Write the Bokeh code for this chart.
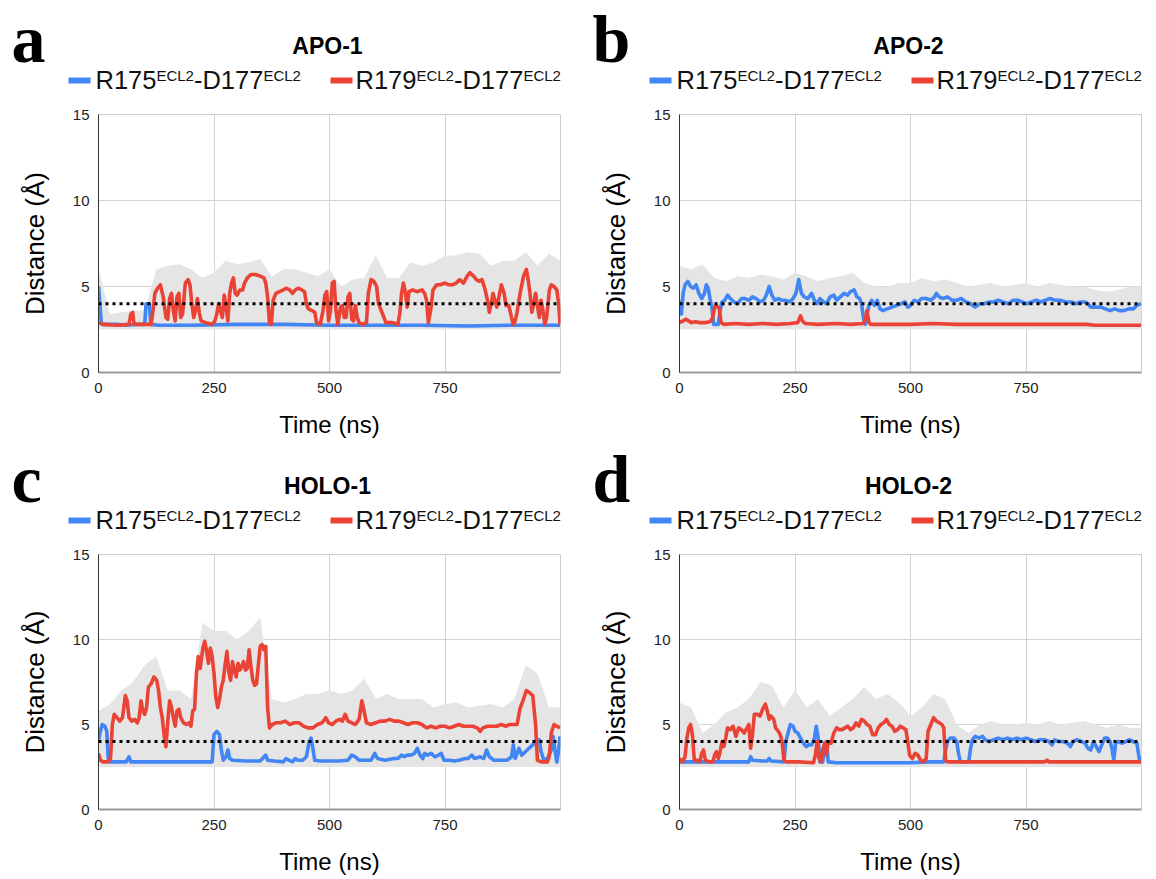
from bokeh.plotting import figure
from bokeh.models import Range1d, FixedTicker, Span
from bokeh.layouts import column, row
from bokeh.embed import file_html
from bokeh.resources import INLINE
from bokeh.core.properties import value

FONT = "Liberation Sans"
SERIF = "Liberation Serif"
BLUE = "#4285f4"
RED = "#ea4335"
GREY = "#e5e5e5"

threshold = 4.0
x_ticks = [0, 250, 500, 750]
y_ticks = [0, 5, 10, 15]
panel_letters = ["a", "b", "c", "d"]
panel_titles = ["APO-1", "APO-2", "HOLO-1", "HOLO-2"]
series_names = [("R175", "ECL2", "-D177", "ECL2"), ("R179", "ECL2", "-D177", "ECL2")]

# raw-trace spread (grey), sampled every 25 ns
grey_t = [i * 25 for i in range(41)]
apo1_grey_lo = [2.5, 2.5, 2.5, 2.5, 2.5, 2.5, 2.5, 2.5, 2.5, 2.5, 2.5, 2.5, 2.5, 2.5, 2.5, 2.5, 2.5, 2.5, 2.5, 2.5, 2.5,
                2.5, 2.5, 2.5, 2.5, 2.5, 2.5, 2.5, 2.5, 2.5, 2.5, 2.5, 2.5, 2.5, 2.5, 2.5, 2.5, 2.5, 2.5, 2.5, 2.5]
apo1_grey_hi = [6.0, 3.4, 3.5, 3.6, 3.6, 6.0, 6.2, 6.3, 6.0, 5.5, 5.8, 6.5, 6.3, 6.4, 6.6, 5.6, 6.0, 6.0, 5.8, 5.6, 6.0,
                5.0, 5.4, 5.5, 6.8, 5.5, 5.5, 6.4, 6.2, 6.4, 6.8, 6.8, 7.0, 6.9, 6.2, 6.5, 6.5, 7.0, 6.2, 6.9, 6.5]
apo2_grey_lo = [2.5, 2.5, 2.5, 2.5, 2.5, 2.5, 2.5, 2.5, 2.5, 2.5, 2.5, 2.5, 2.5, 2.5, 2.5, 2.5, 2.5, 2.5, 2.5, 2.5, 2.5,
                2.5, 2.5, 2.5, 2.5, 2.5, 2.5, 2.5, 2.5, 2.5, 2.5, 2.5, 2.5, 2.5, 2.5, 2.5, 2.5, 2.5, 2.5, 2.5, 2.5]
apo2_grey_hi = [6.2, 6.0, 6.3, 5.5, 5.3, 5.6, 5.5, 5.7, 5.6, 5.4, 5.8, 5.6, 5.3, 5.5, 5.6, 5.8, 5.2, 5.0, 5.0, 5.2, 5.2,
                5.5, 5.3, 5.4, 5.2, 5.0, 5.1, 5.2, 5.0, 5.1, 5.2, 5.0, 5.2, 5.1, 5.0, 5.0, 4.8, 4.7, 4.8, 5.0, 5.0]
holo1_grey_lo = [2.5, 2.5, 2.5, 2.5, 2.5, 2.5, 2.5, 2.5, 2.5, 2.5, 2.5, 2.5, 2.5, 2.5, 2.5, 2.5, 2.5, 2.5, 2.5, 2.5, 2.5,
                 2.5, 2.5, 2.5, 2.5, 2.5, 2.5, 2.5, 2.5, 2.5, 2.5, 2.5, 2.5, 2.5, 2.5, 2.5, 2.5, 2.5, 2.5, 2.5, 2.5]
holo1_grey_hi = [5.8, 6.2, 7.0, 7.5, 8.5, 9.0, 7.0, 7.0, 6.5, 11.0, 10.5, 10.5, 10.0, 10.5, 11.3, 6.5, 6.3, 6.5, 6.8, 6.8, 7.0,
                 6.8, 7.0, 7.7, 6.5, 6.8, 6.5, 6.5, 6.5, 6.0, 6.2, 6.3, 6.0, 6.1, 6.2, 6.0, 6.5, 8.5, 8.0, 6.0, 6.0]
holo2_grey_lo = [2.5, 2.5, 2.5, 2.5, 2.5, 2.5, 2.5, 2.5, 2.5, 2.5, 2.5, 2.5, 2.5, 2.5, 2.5, 2.5, 2.5, 2.5, 2.5, 2.5, 2.5,
                 2.5, 2.5, 2.5, 2.5, 2.5, 2.5, 2.5, 2.5, 2.5, 2.5, 2.5, 2.5, 2.5, 2.5, 2.5, 2.5, 2.5, 2.5, 2.5, 2.5]
holo2_grey_hi = [6.3, 6.0, 4.5, 5.0, 5.7, 6.0, 6.5, 7.5, 7.3, 6.0, 7.0, 6.0, 6.5, 5.5, 6.0, 6.5, 7.2, 6.5, 6.8, 6.3, 5.5,
                 6.0, 6.8, 6.5, 5.0, 4.5, 5.0, 5.2, 5.0, 5.0, 5.1, 5.0, 5.2, 5.0, 5.1, 5.2, 5.0, 4.8, 5.0, 4.8, 4.8]

# smoothed distances (time ns, distance Å)
apo1_r175 = [(0, 5.0), (6, 2.9), (8, 2.8), (40, 2.8), (60, 2.75), (80, 2.8), (100, 2.8), (103, 4.0), (110, 4.0),
             (113, 2.8), (130, 2.75), (200, 2.75), (300, 2.8), (400, 2.8), (500, 2.75), (600, 2.75), (700, 2.75),
             (800, 2.7), (900, 2.75), (999, 2.75)]
apo1_r179 = [(0, 2.9), (10, 2.8), (40, 2.75), (66, 2.8), (70, 3.4), (74, 3.5), (77, 2.8), (100, 2.8), (114, 2.8),
             (118, 3.6), (122, 4.6), (128, 4.9), (134, 5.1), (140, 4.4), (146, 3.2), (150, 3.1), (154, 4.3), (158, 4.6),
             (162, 3.6), (166, 3.0), (170, 4.4), (174, 4.6), (178, 3.2), (182, 3.4), (188, 5.2), (194, 5.4), (198, 5.1),
             (202, 4.0), (206, 3.2), (210, 3.6), (214, 4.3), (218, 3.5), (222, 3.0), (232, 2.9), (246, 2.8), (252, 3.0),
             (256, 3.4), (260, 4.0), (264, 3.6), (268, 3.2), (272, 4.5), (276, 3.8), (280, 3.0), (284, 4.6), (288, 5.2),
             (292, 5.5), (296, 4.6), (300, 4.5), (306, 4.8), (312, 4.8), (316, 5.2), (322, 5.5), (330, 5.7), (340, 5.7),
             (350, 5.6), (358, 5.5), (362, 5.2), (366, 4.4), (370, 2.9), (374, 2.8), (378, 4.2), (384, 4.6), (392, 4.7),
             (400, 4.8), (406, 4.9), (414, 4.8), (420, 4.6), (426, 4.8), (432, 4.9), (440, 4.8), (446, 4.7), (450, 4.0),
             (454, 3.7), (462, 3.6), (468, 3.5), (472, 2.9), (480, 2.8), (486, 3.6), (490, 4.5), (494, 4.7), (498, 3.0),
             (502, 3.6), (506, 5.2), (510, 5.3), (514, 3.6), (518, 2.8), (524, 3.8), (528, 3.9), (532, 3.2), (536, 3.2),
             (540, 4.4), (544, 4.6), (548, 3.1), (552, 3.0), (556, 3.9), (560, 3.2), (564, 2.9), (572, 2.8), (580, 2.9),
             (584, 4.6), (590, 5.4), (596, 5.3), (602, 5.0), (606, 4.0), (612, 3.6), (618, 3.2), (622, 2.9), (636, 2.9),
             (648, 2.8), (652, 3.4), (656, 4.6), (660, 5.2), (664, 4.7), (668, 3.8), (672, 4.7), (680, 4.8), (690, 4.7),
             (700, 4.8), (706, 4.6), (710, 4.2), (714, 2.9), (720, 3.8), (724, 4.8), (732, 5.1), (740, 5.1), (750, 5.2),
             (758, 5.1), (766, 5.1), (774, 5.2), (782, 5.4), (790, 5.2), (798, 5.6), (804, 5.8), (812, 5.6), (818, 5.4),
             (824, 5.3), (830, 5.4), (836, 4.9), (842, 4.2), (846, 3.5), (850, 4.0), (854, 4.6), (858, 4.2), (862, 3.8),
             (866, 4.3), (872, 5.1), (878, 4.6), (882, 3.9), (888, 3.9), (894, 3.2), (898, 2.8), (902, 3.0), (906, 3.5),
             (910, 4.2), (914, 4.8), (920, 5.6), (926, 6.0), (930, 5.4), (934, 4.6), (938, 3.5), (942, 4.0), (946, 4.6),
             (950, 3.9), (954, 3.2), (958, 4.2), (962, 3.6), (966, 2.8), (970, 3.2), (976, 4.8), (980, 5.1), (986, 5.0),
             (992, 4.8), (996, 4.0), (999, 2.8)]

apo2_r175 = [(0, 4.2), (4, 3.4), (8, 4.6), (12, 5.1), (18, 5.3), (24, 5.0), (30, 4.9), (36, 5.1), (42, 4.6), (48, 4.3),
             (54, 4.6), (58, 5.1), (62, 4.9), (66, 4.3), (70, 3.8), (74, 2.8), (84, 2.8), (88, 3.6), (92, 4.1), (98, 4.2),
             (104, 4.5), (110, 4.3), (118, 4.1), (126, 4.0), (134, 4.3), (142, 4.3), (150, 4.2), (158, 4.4), (166, 4.3),
             (174, 4.1), (182, 4.2), (188, 4.5), (194, 5.0), (200, 4.5), (206, 4.2), (214, 4.3), (222, 4.2), (230, 4.2),
             (238, 4.1), (246, 4.3), (252, 4.6), (258, 5.4), (264, 4.6), (270, 4.4), (278, 4.3), (286, 4.6), (292, 4.2),
             (298, 4.0), (304, 4.3), (312, 4.1), (318, 4.0), (326, 4.4), (334, 4.5), (340, 4.2), (348, 4.4), (356, 4.6),
             (364, 4.5), (370, 4.7), (378, 4.8), (384, 4.4), (390, 4.3), (394, 4.0), (398, 3.2), (402, 2.8), (406, 3.4),
             (410, 3.9), (416, 4.2), (422, 3.9), (428, 4.2), (434, 3.7), (440, 3.6), (450, 3.7), (460, 3.8), (470, 3.9),
             (480, 4.0), (488, 4.1), (494, 3.8), (500, 3.9), (508, 4.2), (516, 4.1), (524, 4.3), (534, 4.3), (544, 4.2),
             (552, 4.4), (556, 4.6), (562, 4.4), (570, 4.3), (580, 4.4), (590, 4.2), (600, 4.2), (610, 4.3), (620, 4.1),
             (630, 4.0), (640, 3.8), (650, 4.0), (660, 4.0), (670, 4.1), (680, 4.1), (690, 4.2), (700, 4.1), (712, 4.0),
             (722, 4.2), (732, 4.2), (742, 4.1), (752, 4.0), (762, 4.1), (772, 4.2), (782, 4.1), (792, 4.2), (802, 4.3),
             (812, 4.2), (824, 4.2), (836, 4.1), (848, 4.1), (858, 4.0), (868, 4.1), (878, 4.1), (884, 4.0), (890, 3.8),
             (900, 3.8), (912, 3.8), (922, 3.7), (932, 3.6), (942, 3.7), (952, 3.6), (962, 3.6), (972, 3.7), (982, 3.7),
             (990, 3.9), (999, 4.0)]
apo2_r179 = [(0, 2.9), (8, 3.0), (14, 3.1), (20, 3.0), (26, 2.9), (34, 2.95), (44, 2.9), (56, 2.9), (66, 2.95),
             (72, 3.2), (76, 3.8), (80, 3.9), (86, 3.7), (90, 2.9), (96, 2.8), (120, 2.85), (150, 2.8), (180, 2.85),
             (210, 2.8), (240, 2.85), (256, 2.9), (262, 3.3), (266, 3.0), (272, 2.85), (300, 2.8), (340, 2.85),
             (370, 2.8), (398, 2.85), (402, 3.1), (406, 3.6), (410, 2.9), (414, 2.8), (450, 2.8), (500, 2.8),
             (550, 2.85), (600, 2.8), (650, 2.8), (700, 2.8), (750, 2.8), (800, 2.8), (850, 2.8), (880, 2.8),
             (900, 2.75), (950, 2.75), (999, 2.75)]

holo1_r175 = [(0, 4.0), (4, 4.6), (8, 5.0), (14, 4.9), (18, 4.6), (21, 3.0), (24, 2.8), (40, 2.8), (60, 2.8), (66, 3.1),
              (70, 2.8), (100, 2.8), (140, 2.8), (180, 2.8), (220, 2.8), (246, 2.8), (250, 4.4), (256, 4.6), (262, 4.4),
              (266, 3.5), (270, 2.9), (276, 3.1), (280, 3.5), (284, 3.0), (290, 2.9), (320, 2.85), (350, 2.85),
              (362, 3.2), (366, 2.9), (380, 2.85), (400, 2.8), (406, 3.0), (412, 2.9), (420, 2.8), (426, 3.0),
              (432, 2.9), (442, 2.9), (450, 3.1), (456, 4.0), (460, 4.2), (464, 3.6), (468, 2.9), (480, 2.85),
              (500, 2.85), (520, 2.85), (540, 2.9), (548, 3.2), (556, 3.1), (564, 2.9), (590, 2.9), (598, 3.3),
              (604, 3.0), (620, 2.9), (640, 3.0), (648, 3.0), (656, 3.2), (662, 3.1), (668, 3.2), (676, 3.2),
              (684, 3.3), (690, 3.6), (696, 3.2), (702, 3.0), (706, 3.3), (712, 3.2), (720, 3.3), (728, 3.1),
              (736, 3.2), (742, 3.3), (748, 2.9), (760, 2.9), (770, 2.85), (780, 2.9), (794, 3.0), (800, 3.0),
              (808, 3.2), (814, 3.0), (826, 3.1), (834, 3.0), (840, 3.5), (846, 3.1), (856, 2.9), (870, 2.9),
              (884, 2.9), (894, 3.1), (898, 3.8), (902, 3.0), (910, 3.6), (916, 3.2), (924, 3.4), (932, 3.6),
              (940, 3.8), (948, 4.1), (954, 4.1), (958, 3.4), (964, 2.9), (972, 3.0), (980, 3.5), (984, 4.3),
              (988, 3.5), (992, 2.8), (996, 3.5), (999, 4.3)]
holo1_r179 = [(0, 3.3), (4, 2.9), (10, 2.8), (20, 2.8), (26, 3.0), (30, 5.0), (34, 5.6), (40, 5.4), (46, 5.2),
              (52, 5.4), (58, 6.7), (62, 6.4), (66, 5.4), (72, 5.2), (78, 5.3), (84, 5.1), (88, 5.4), (92, 6.4),
              (96, 5.8), (100, 5.6), (104, 6.0), (108, 7.2), (114, 7.4), (120, 7.8), (126, 7.6), (130, 7.0), (134, 6.0),
              (138, 5.4), (142, 4.4), (146, 3.7), (150, 5.2), (154, 6.4), (158, 6.0), (162, 5.4), (166, 4.9), (170, 5.8),
              (174, 5.9), (178, 5.4), (184, 5.1), (190, 5.0), (196, 5.1), (200, 4.9), (204, 5.8), (208, 5.9), (212, 8.0),
              (216, 9.0), (220, 8.3), (226, 9.5), (230, 9.9), (234, 9.3), (238, 8.6), (242, 9.5), (246, 9.0), (250, 8.0),
              (254, 6.6), (258, 6.0), (262, 6.5), (266, 7.2), (270, 7.6), (274, 8.5), (278, 9.3), (282, 8.1), (286, 7.6),
              (290, 8.7), (294, 8.2), (298, 7.8), (302, 8.6), (306, 8.2), (310, 8.4), (314, 8.7), (318, 8.2), (322, 8.3),
              (326, 9.4), (330, 8.4), (334, 7.6), (338, 7.3), (342, 7.4), (346, 8.5), (350, 9.6), (354, 9.7), (358, 9.4),
              (362, 9.6), (366, 6.0), (370, 4.8), (376, 5.0), (384, 5.1), (394, 5.1), (404, 5.2), (414, 5.0), (424, 5.1),
              (434, 5.1), (444, 4.9), (454, 4.8), (464, 4.8), (474, 5.0), (484, 5.1), (492, 5.4), (498, 5.1), (506, 5.0),
              (514, 5.2), (522, 5.3), (528, 5.2), (534, 5.6), (540, 5.2), (548, 5.1), (556, 5.0), (564, 5.3), (570, 6.4),
              (574, 5.9), (580, 5.1), (590, 5.0), (600, 5.1), (610, 5.2), (620, 5.2), (630, 5.3), (640, 5.2), (650, 5.2),
              (660, 5.1), (670, 5.0), (680, 5.1), (690, 5.1), (700, 5.0), (710, 4.8), (720, 4.9), (730, 4.8), (740, 4.9),
              (750, 4.9), (760, 4.8), (770, 4.9), (780, 5.0), (790, 4.9), (800, 4.9), (810, 4.9), (820, 4.8), (826, 4.6),
              (832, 4.8), (842, 4.9), (852, 4.9), (862, 4.9), (872, 5.0), (882, 4.9), (890, 5.0), (900, 5.0), (906, 5.0),
              (912, 5.9), (920, 6.5), (926, 7.0), (932, 6.9), (940, 6.7), (946, 5.0), (950, 2.9), (958, 2.8), (972, 2.8),
              (976, 3.2), (980, 4.5), (986, 5.0), (992, 4.9), (999, 4.8)]

holo2_r175 = [(0, 2.8), (40, 2.8), (80, 2.8), (120, 2.8), (150, 2.8), (154, 3.1), (158, 2.9), (180, 2.85), (190, 2.85),
              (194, 3.0), (198, 2.85), (226, 2.8), (230, 4.0), (236, 4.6), (240, 5.0), (246, 4.9), (250, 4.6),
              (256, 4.5), (262, 4.2), (268, 3.9), (274, 3.7), (280, 3.8), (286, 3.8), (292, 4.2), (296, 4.9),
              (300, 4.2), (304, 2.8), (310, 2.8), (314, 3.6), (318, 4.0), (322, 2.8), (340, 2.75), (380, 2.75),
              (420, 2.75), (460, 2.75), (500, 2.75), (540, 2.8), (572, 2.8), (576, 3.5), (580, 4.0), (586, 4.2),
              (594, 4.2), (600, 4.0), (604, 3.3), (608, 2.8), (626, 2.8), (630, 3.6), (634, 4.1), (640, 4.3),
              (648, 4.2), (656, 4.3), (662, 4.1), (670, 4.0), (680, 4.1), (690, 4.2), (700, 4.1), (710, 4.2),
              (720, 4.1), (730, 4.2), (740, 4.1), (750, 4.2), (760, 4.1), (770, 4.0), (780, 4.1), (790, 4.1),
              (800, 4.0), (806, 3.8), (812, 4.1), (820, 4.0), (830, 4.0), (840, 3.9), (846, 3.7), (852, 4.0),
              (860, 4.1), (870, 4.0), (878, 3.9), (884, 3.6), (890, 3.5), (896, 4.0), (902, 3.7), (908, 3.4),
              (914, 3.8), (920, 4.2), (926, 4.2), (932, 4.0), (936, 3.6), (940, 2.9), (944, 3.9), (950, 4.0),
              (958, 3.9), (966, 4.0), (974, 4.1), (982, 4.0), (990, 3.9), (995, 3.0), (999, 3.0)]
holo2_r179 = [(0, 3.0), (6, 2.8), (12, 3.1), (16, 4.2), (20, 4.8), (24, 5.0), (28, 4.4), (32, 2.9), (38, 2.9), (44, 2.8),
              (48, 3.3), (52, 3.5), (56, 2.9), (64, 2.8), (72, 2.8), (76, 3.2), (80, 3.4), (84, 3.0), (88, 3.4),
              (92, 4.0), (96, 3.7), (100, 4.2), (104, 4.8), (110, 4.7), (116, 4.9), (122, 4.3), (128, 4.8), (134, 4.7),
              (140, 4.5), (146, 4.8), (150, 5.0), (154, 3.6), (158, 4.4), (162, 5.6), (168, 5.6), (174, 5.5),
              (180, 5.9), (186, 6.2), (190, 5.8), (194, 5.3), (198, 5.5), (204, 5.3), (208, 4.8), (214, 4.6),
              (218, 4.4), (222, 4.0), (226, 2.9), (232, 2.8), (260, 2.8), (290, 2.75), (294, 3.2), (298, 4.0),
              (302, 3.0), (306, 2.8), (310, 3.5), (314, 3.9), (318, 3.2), (322, 4.0), (328, 3.9), (334, 4.5),
              (340, 4.8), (346, 4.7), (352, 4.7), (358, 4.8), (364, 4.9), (370, 4.7), (376, 4.8), (382, 5.1),
              (388, 4.9), (394, 5.3), (400, 5.2), (406, 5.0), (412, 4.9), (418, 4.4), (424, 4.4), (430, 4.8),
              (436, 5.0), (442, 5.1), (448, 5.3), (454, 5.0), (460, 4.9), (466, 4.6), (472, 4.7), (478, 4.9),
              (484, 4.8), (490, 4.7), (494, 4.0), (498, 3.2), (504, 3.0), (510, 3.3), (516, 3.2), (522, 2.9),
              (528, 2.8), (534, 3.0), (538, 4.6), (544, 5.0), (550, 5.4), (556, 5.2), (562, 5.1), (568, 5.0),
              (572, 4.8), (576, 2.9), (580, 2.8), (620, 2.8), (680, 2.8), (740, 2.8), (790, 2.8), (796, 2.9),
              (800, 2.8), (850, 2.8), (900, 2.8), (950, 2.8), (999, 2.8)]

panels = [
    (apo1_grey_lo, apo1_grey_hi, apo1_r175, apo1_r179),
    (apo2_grey_lo, apo2_grey_hi, apo2_r175, apo2_r179),
    (holo1_grey_lo, holo1_grey_hi, holo1_r175, holo1_r179),
    (holo2_grey_lo, holo2_grey_hi, holo2_r175, holo2_r179),
]

# Arial / Liberation Sans advance widths (em)
ADV = {"R": 0.722, "1": 0.556, "7": 0.556, "5": 0.556, "9": 0.556, "-": 0.333, "D": 0.722,
       "E": 0.667, "C": 0.722, "L": 0.556, "2": 0.556}


def tw(s, size):
    return sum(ADV.get(c, 0.556) for c in s) * size


LEG_FS = 25.5
SUP_FS = 15
HEAD_W, HEAD_H = 1154, 104
RIGHT_SHIFT = 581
MID = 0.35  # baseline lies this many em below the 'middle' anchor


def y_for_baseline(page_baseline, fs):
    # header figure: data y = HEAD_H - page y ; anchor = middle
    return HEAD_H - (page_baseline - MID * fs)


def make_header():
    h = figure(width=HEAD_W, height=HEAD_H, x_range=Range1d(0, HEAD_W), y_range=Range1d(0, HEAD_H),
               x_axis_type=None, y_axis_type=None, toolbar_location=None,
               output_backend="svg", min_border=0)
    h.grid.visible = False
    h.outline_line_color = None
    return h


def fill_header(h, idx_pair):
    for k, idx in enumerate(idx_pair):
        ox = RIGHT_SHIFT * k
        # panel letter
        h.text(x=[11 + ox], y=[y_for_baseline(62, 68)], text=[panel_letters[idx]], text_font=value(SERIF),
               text_font_style="bold", text_font_size="68px", text_color="black",
               text_baseline="middle", text_align="left")
        # title
        h.text(x=[327 + ox], y=[y_for_baseline(54, 23)], text=[panel_titles[idx]], text_font=value(FONT),
               text_font_style="bold", text_font_size="23px", text_color="black",
               text_baseline="middle", text_align="center")
        # legend
        starts = [(68 + ox, 95 + ox), (330 + ox, 355 + ox)]
        for (sx, tx), col, parts in zip(starts, [BLUE, RED], series_names):
            h.quad(left=[sx], right=[sx + 22], bottom=[21], top=[27], color=col, line_color=None)
            x = tx
            for j, part in enumerate(parts):
                sup = (j % 2 == 1)
                fs = SUP_FS if sup else LEG_FS
                base = 80 if sup else 88
                h.text(x=[x], y=[y_for_baseline(base, fs)], text=[part], text_font=value(FONT),
                       text_font_size=f"{fs}px", text_color="#111111",
                       text_baseline="middle", text_align="left")
                x += tw(part, fs)


def make_plot(idx, left_col, top_row):
    lo, hi, r175, r179 = panels[idx]
    height = 336 if top_row else 333
    p = figure(width=578 if left_col else 576, height=height,
               x_range=Range1d(0, 1000), y_range=Range1d(0, 15),
               toolbar_location=None, output_backend="svg",
               min_border_left=98 if left_col else 101,
               min_border_right=18 if left_col else 13,
               min_border_top=10, min_border_bottom=68 if top_row else 65)
    p.background_fill_color = "white"
    p.outline_line_color = "#cccccc"
    p.xaxis.ticker = FixedTicker(ticks=x_ticks)
    p.yaxis.ticker = FixedTicker(ticks=y_ticks)
    p.xgrid.ticker = FixedTicker(ticks=x_ticks)
    p.ygrid.ticker = FixedTicker(ticks=y_ticks)
    p.grid.grid_line_color = "#d3d3d3"
    p.grid.grid_line_width = 1
    for ax in (p.xaxis[0], p.yaxis[0]):
        ax.major_tick_line_color = None
        ax.minor_tick_line_color = None
        ax.major_tick_out = 0
        ax.major_tick_in = 0
        ax.major_label_text_font = FONT
        ax.major_label_text_font_size = "15px"
        ax.major_label_text_color = "#222222"
        ax.axis_label_text_font = FONT
        ax.axis_label_text_font_style = "normal"
        ax.axis_label_text_color = "black"
    p.yaxis.axis_label = "Distance (Å)"
    p.yaxis.axis_label_text_font_size = "26px"
    p.yaxis.axis_line_color = "#333333"
    p.yaxis.axis_line_width = 1
    p.yaxis.major_label_standoff = 9
    p.yaxis.axis_label_standoff = 20
    p.xaxis.axis_label = "Time (ns)"
    p.xaxis.axis_label_text_font_size = "24px"
    p.xaxis.axis_line_color = "#9a9a9a"
    p.xaxis.axis_line_width = 2
    p.xaxis.major_label_standoff = 10
    p.xaxis.axis_label_standoff = 15

    p.varea(x=grey_t, y1=lo, y2=hi, fill_color=GREY, fill_alpha=1.0)
    bt, bv = zip(*r175)
    rt, rv = zip(*r179)
    p.line(list(bt), list(bv), line_color=BLUE, line_width=3.6, line_join="round")
    p.line(list(rt), list(rv), line_color=RED, line_width=3.6, line_join="round")
    p.add_layout(Span(location=threshold, dimension="width", line_color="black",
                      line_width=3, line_dash="3 4"))
    return p


h_top = make_header()
fill_header(h_top, (0, 1))
h_bot = make_header()
fill_header(h_bot, (2, 3))

pa = make_plot(0, True, True)
pb = make_plot(1, False, True)
pc = make_plot(2, True, False)
pd = make_plot(3, False, False)

layout = column(h_top, row(pa, pb), h_bot, row(pc, pd))
open("out.html", "w").write(file_html(layout, INLINE))
